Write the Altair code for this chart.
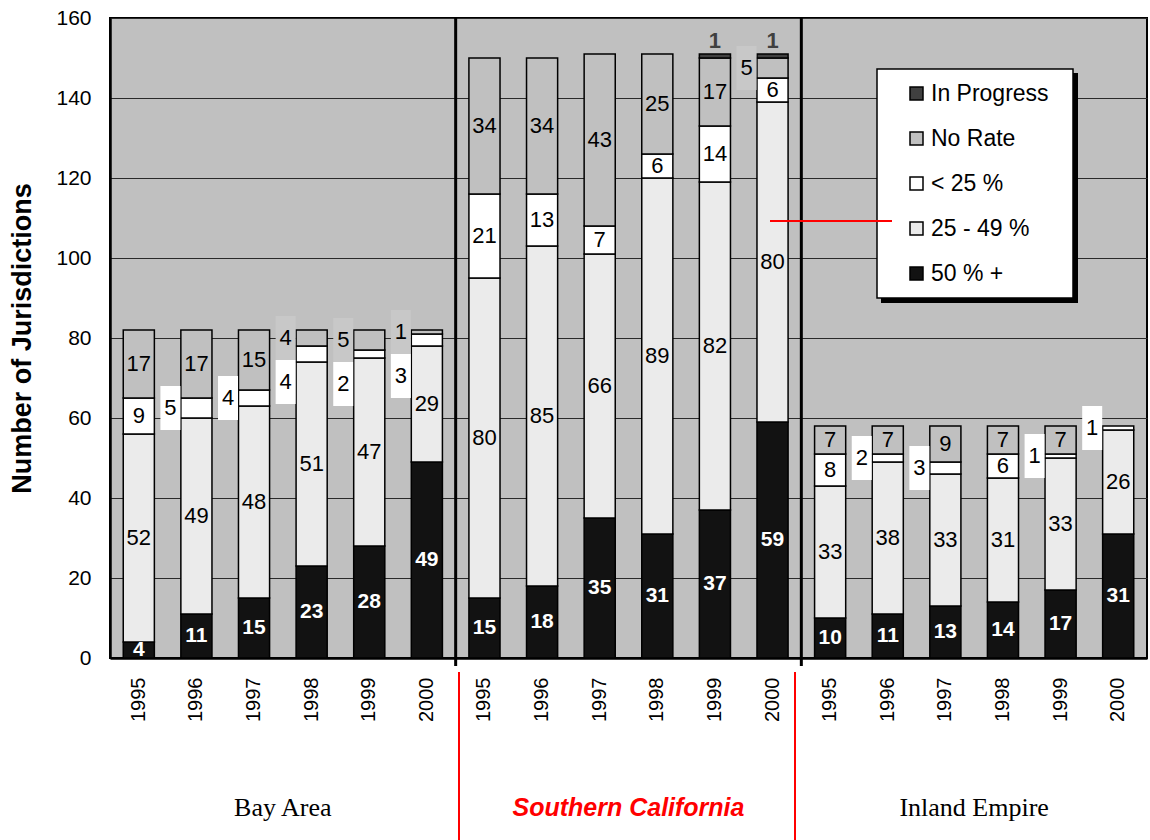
import altair as alt
import pandas as pd

# ---- data -------------------------------------------------------------
regions = ["Bay Area", "Southern California", "Inland Empire"]
years = ["1995", "1996", "1997", "1998", "1999", "2000"]

# stacking order, bottom to top
categories = ["50 % +", "25 - 49 %", "< 25 %", "No Rate", "In Progress"]
legend_order = ["In Progress", "No Rate", "< 25 %", "25 - 49 %", "50 % +"]

# values per jurisdiction group, region-major (Bay Area, Southern California, Inland Empire)
fifty_plus    = [4, 11, 15, 23, 28, 49,   15, 18, 35, 31, 37, 59,   10, 11, 13, 14, 17, 31]
twentyfive_49 = [52, 49, 48, 51, 47, 29,  80, 85, 66, 89, 82, 80,   33, 38, 33, 31, 33, 26]
under_25      = [9, 5, 4, 4, 2, 3,        21, 13, 7, 6, 14, 6,      8, 2, 3, 6, 1, 1]
no_rate       = [17, 17, 15, 4, 5, 1,     34, 34, 43, 25, 17, 5,    7, 7, 9, 7, 7, 0]
in_progress   = [0, 0, 0, 0, 0, 0,        0, 0, 0, 0, 1, 1,         0, 0, 0, 0, 0, 0]

series = {
    "50 % +": fifty_plus,
    "25 - 49 %": twentyfive_49,
    "< 25 %": under_25,
    "No Rate": no_rate,
    "In Progress": in_progress,
}

fills = {
    "In Progress": "#404040",
    "No Rate": "#c0c0c0",
    "< 25 %": "#ffffff",
    "25 - 49 %": "#ebebeb",
    "50 % +": "#121212",
}

# ---- layout constants -------------------------------------------------
W, H = 1037, 640
Y_MAX = 160
PX_PER_UNIT = H / Y_MAX
SANS = "Liberation Sans, Arial, sans-serif"
SERIF = "Liberation Serif, Times New Roman, serif"
BOX_H_PX = 44            # height of the callout box behind small labels
SIDE_DX = -26            # small labels sit left of their bar
BOX_UNITS = BOX_H_PX / PX_PER_UNIT

keys = [f"{r}|{y}" for r in regions for y in years]
step = W / len(keys)

# ---- build tables -----------------------------------------------------
bar_rows, label_rows = [], []
for i, key in enumerate(keys):
    base = 0
    segs = []
    for cat in categories:
        v = series[cat][i]
        if v:
            bar_rows.append(dict(key=key, category=cat, y0=base, y1=base + v))
            segs.append((cat, v, base, base + v))
        base += v
    side_prev = None
    for cat, v, lo, hi in reversed(segs):
        mid = (lo + hi) / 2
        if cat == "In Progress":
            label_rows.append(dict(key=key, y=hi, text=str(v), kind="top", box=""))
        elif cat == "50 % +":
            label_rows.append(dict(key=key, y=mid, text=str(v), kind="dark", box=""))
        elif v >= 6:
            label_rows.append(dict(key=key, y=mid, text=str(v), kind="inside", box=""))
        else:
            yy = mid if side_prev is None else min(mid, side_prev - BOX_UNITS)
            side_prev = yy
            label_rows.append(dict(key=key, y=yy, text=str(v), kind="side",
                                   box="#c8c8c8" if cat == "No Rate" else "#ffffff"))

bars = pd.DataFrame(bar_rows)
labels = pd.DataFrame(label_rows)

# ---- encodings --------------------------------------------------------
x_axis = alt.Axis(
    labelExpr="split(datum.value, '|')[1]", labelAngle=270, labelFont=SANS,
    labelFontSize=20, labelColor="black", labelPadding=19, labelOverlap=False,
    ticks=False, tickSize=0, domainColor="black", domainWidth=2.5, grid=False, title=None,
)
x_enc = alt.X("key:N", sort=keys, axis=x_axis,
              scale=alt.Scale(paddingInner=0.46, paddingOuter=0.23))

y_axis = alt.Axis(
    values=list(range(0, Y_MAX + 1, 20)), grid=True, gridColor="#2a2a2a", gridWidth=1.2,
    domainColor="black", domainWidth=2.5, ticks=False, tickSize=0,
    labelFont=SANS, labelFontSize=21, labelColor="black", labelPadding=19,
    title="Number of Jurisdictions", titleFont=SANS, titleFontSize=27,
    titleFontWeight="bold", titleColor="black", titleX=-88, titleY=H / 2,
    titleAngle=270, titleAlign="center", titleBaseline="middle",
)
y_scale = alt.Scale(domain=[0, Y_MAX], nice=False)

bar_layer = alt.Chart(bars).mark_bar(stroke="black", strokeWidth=1.5).encode(
    x=x_enc,
    y=alt.Y("y0:Q", scale=y_scale, axis=y_axis),
    y2="y1:Q",
    color=alt.Color(
        "category:N",
        scale=alt.Scale(domain=legend_order, range=[fills[c] for c in legend_order]),
        legend=alt.Legend(
            orient="none", legendX=795, legendY=64, title=None, padding=0,
            symbolType="square", symbolSize=169, symbolStrokeColor="black",
            symbolStrokeWidth=1.5, labelFont=SANS, labelFontSize=23,
            labelColor="black", labelOffset=3, rowPadding=21,
        ),
    ),
)

lbl = alt.Chart(labels)
y_lbl = alt.Y("y:Q", scale=y_scale)

# callout boxes behind the small labels (custom symbol, unit = sqrt(size)/2 px)
unit = 22
box_path = "M{l},-1L{r},-1L{r},1L{l},1Z".format(
    l=round((SIDE_DX - 10) / unit, 4), r=round((SIDE_DX + 10) / unit, 4))
box_layer = lbl.transform_filter(alt.datum.kind == "side").mark_point(
    shape=box_path, size=4 * unit * unit, filled=True, opacity=1, strokeWidth=0
).encode(x=x_enc, y=y_lbl, fill=alt.Fill("box:N", scale=None))

side_text = lbl.transform_filter(alt.datum.kind == "side").mark_text(
    dx=SIDE_DX, font=SANS, fontSize=22, color="black", baseline="middle"
).encode(x=x_enc, y=y_lbl, text="text:N")

inside_text = lbl.transform_filter(alt.datum.kind == "inside").mark_text(
    font=SANS, fontSize=22, color="black", baseline="middle"
).encode(x=x_enc, y=y_lbl, text="text:N")

dark_text = lbl.transform_filter(alt.datum.kind == "dark").mark_text(
    font=SANS, fontSize=21, fontWeight="bold", color="white", baseline="middle"
).encode(x=x_enc, y=y_lbl, text="text:N")

top_text = lbl.transform_filter(alt.datum.kind == "top").mark_text(
    font=SANS, fontSize=22, fontWeight="bold", color="#404040", baseline="bottom", dy=-1
).encode(x=x_enc, y=y_lbl, text="text:N")

one = pd.DataFrame({"n": [0]})

def rule(x, y, y2=None, x2=None, color="black", width=1.0):
    enc = dict(x=alt.value(x), y=alt.value(y))
    if y2 is not None:
        enc["y2"] = alt.value(y2)
    if x2 is not None:
        enc["x2"] = alt.value(x2)
    return alt.Chart(one).mark_rule(color=color, strokeWidth=width).encode(**enc)

# heavy dividers between the three regions
dividers = [rule(step * 6 * k, 0, y2=H + 8, width=3) for k in (1, 2)]

# legend frame with drop shadow
legend_shadow = alt.Chart(one).mark_rect(color="black").encode(
    x=alt.value(771), x2=alt.value(968), y=alt.value(55), y2=alt.value(285))
legend_box = alt.Chart(one).mark_rect(fill="white", stroke="black", strokeWidth=1.5).encode(
    x=alt.value(767), x2=alt.value(963), y=alt.value(51), y2=alt.value(280))

# pointer from the legend to the Southern California 2000 bar
pointer = rule(660, 203, x2=782, color="#ff0000", width=2)

# red separators around the Southern California group label
red_lines = [rule(x, H + 14, y2=H + 182, color="#ff0000", width=2) for x in (349, 685)]

# group labels under the axis, centred on each region
region_df = pd.DataFrame({"key": [f"{r}|1997" for r in regions], "region": regions})
plain_regions = alt.Chart(region_df).transform_filter(
    alt.datum.region != "Southern California"
).mark_text(dx=step / 2, font=SERIF, fontSize=26, color="black", baseline="middle").encode(
    x=x_enc, y=alt.value(H + 150), text="region:N")
socal_region = alt.Chart(region_df).transform_filter(
    alt.datum.region == "Southern California"
).mark_text(dx=step / 2, font=SANS, fontSize=25, fontWeight="bold", fontStyle="italic",
            color="#ff0000", baseline="middle").encode(
    x=x_enc, y=alt.value(H + 150), text="region:N")

chart = alt.layer(
    bar_layer, *dividers, box_layer, side_text, inside_text, dark_text, top_text,
    legend_shadow, legend_box, pointer, *red_lines, plain_regions, socal_region,
).properties(
    width=W, height=H,
    autosize=alt.AutoSizeParams(type="none"),
    padding={"left": 110, "top": 18, "right": 3, "bottom": 182},
    background="white",
).configure_view(
    fill="#c0c0c0", stroke="black", strokeWidth=2,
)

chart.save("out.html", embed_options={"renderer": "svg", "actions": False})
